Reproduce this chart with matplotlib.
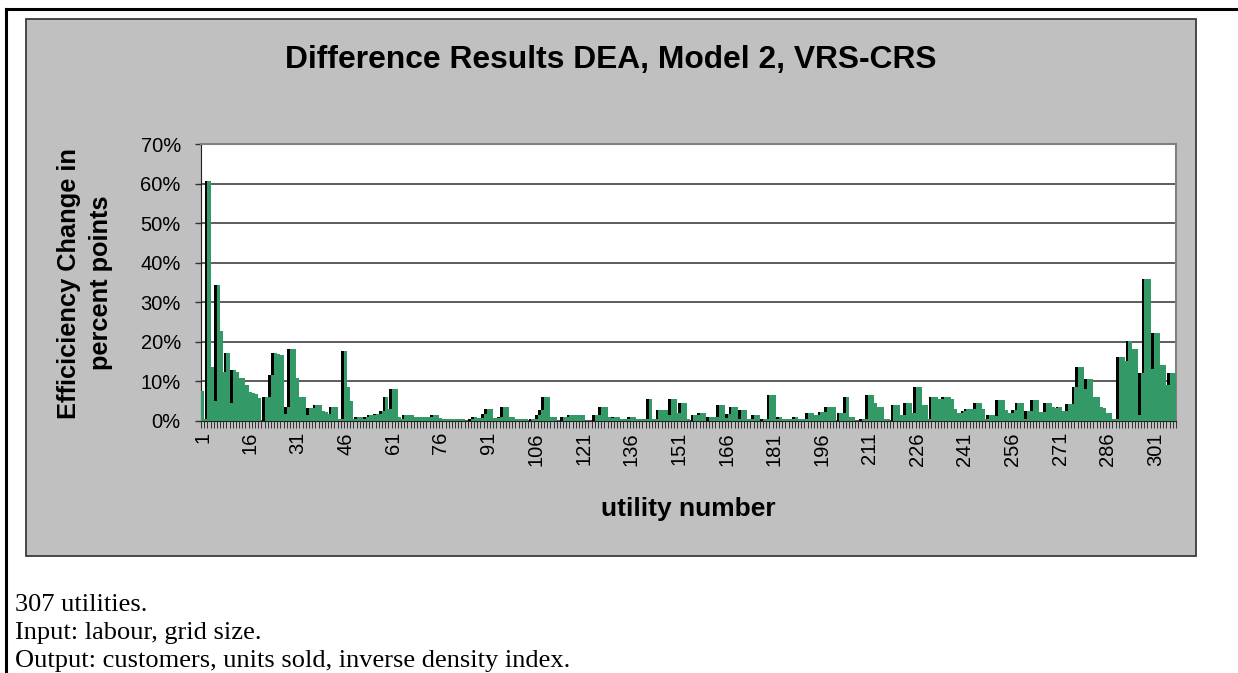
import numpy as np
import matplotlib
matplotlib.use("Agg")
import matplotlib.pyplot as plt
from matplotlib.patches import Rectangle
from matplotlib.lines import Line2D

plt.rcParams['font.family'] = ['Liberation Sans', 'DejaVu Sans']

# difference VRS-CRS per utility, in percent points
diff_pct = [
    7.6, 0.5, 60.6, 13.7, 5.0, 34.3, 22.8, 12.3, 17.2, 4.5,
    12.9, 12.5, 10.8, 10.8, 9.1, 7.4, 7.1, 6.8, 5.7, 0.0,
    6.1, 6.1, 11.5, 17.3, 17.0, 16.6, 1.7, 3.6, 18.2, 18.2,
    10.8, 6.1, 6.1, 1.5, 3.2, 3.2, 4.0, 4.0, 2.6, 2.4,
    1.8, 3.5, 3.5, 0.5, 0.5, 17.6, 8.6, 5.0, 0.6, 1.0,
    1.0, 0.6, 1.0, 1.5, 1.5, 1.8, 1.8, 2.5, 6.0, 3.1,
    8.0, 8.0, 1.0, 0.6, 1.5, 1.5, 1.5, 1.0, 1.0, 1.0,
    1.0, 1.0, 1.0, 1.6, 1.6, 0.7, 0.6, 0.6, 0.6, 0.6,
    0.5, 0.5, 0.5, 0.0, 0.0, 0.5, 1.0, 0.8, 0.8, 1.8,
    3.1, 3.1, 0.8, 0.8, 1.0, 3.5, 3.5, 1.0, 1.0, 0.6,
    0.6, 0.6, 0.6, 0.0, 0.6, 0.6, 1.6, 2.9, 6.0, 6.0,
    1.0, 1.0, 0.0, 0.0, 1.0, 1.0, 1.6, 1.6, 1.6, 1.6,
    1.6, 0.0, 0.0, 0.0, 1.6, 1.6, 3.5, 3.5, 1.0, 0.8,
    1.0, 1.0, 0.5, 0.5, 0.5, 1.0, 1.0, 0.5, 0.5, 0.5,
    0.5, 5.6, 0.6, 0.6, 2.7, 2.7, 2.7, 1.5, 5.6, 5.6,
    2.0, 4.6, 4.6, 0.6, 0.0, 1.6, 1.6, 2.0, 2.0, 0.0,
    1.0, 1.0, 1.0, 4.1, 4.1, 0.8, 1.8, 3.5, 3.5, 0.6,
    2.7, 2.7, 0.6, 0.6, 1.6, 1.6, 0.0, 0.6, 0.6, 6.5,
    6.5, 0.6, 1.0, 0.6, 0.6, 0.5, 0.5, 1.0, 0.6, 0.6,
    0.5, 2.0, 2.0, 1.6, 1.6, 2.4, 2.4, 3.5, 3.5, 3.5,
    0.0, 2.0, 2.0, 6.0, 1.0, 1.0, 0.0, 0.0, 0.5, 0.5,
    6.5, 6.5, 4.6, 3.5, 3.5, 0.6, 0.6, 0.0, 4.1, 4.1,
    1.4, 1.4, 4.5, 4.5, 2.0, 8.6, 8.6, 4.1, 4.1, 0.6,
    6.0, 6.0, 5.6, 5.6, 6.0, 6.0, 5.6, 3.1, 2.0, 2.0,
    2.5, 3.1, 3.1, 3.1, 4.6, 4.6, 3.1, 0.6, 1.6, 1.6,
    1.2, 5.2, 5.2, 2.9, 2.0, 2.0, 2.7, 4.5, 4.5, 0.6,
    2.5, 2.5, 5.2, 5.2, 2.3, 2.3, 4.5, 4.5, 3.5, 3.3,
    3.6, 2.6, 2.6, 4.2, 4.2, 8.6, 13.6, 13.6, 8.0, 10.7,
    10.7, 6.1, 6.1, 3.6, 3.2, 2.1, 2.1, 0.5, 0.5, 16.2,
    16.2, 15.1, 20.3, 18.2, 18.2, 1.5, 12.1, 35.8, 35.8, 13.2,
    22.2, 22.2, 14.2, 14.2, 9.2, 12.1, 12.1,
]
utility = np.arange(1, len(diff_pct) + 1)
tick_labels = [str(u) for u in range(1, 302, 15)]
y_ticks = list(range(0, 71, 10))

W, H = 1238, 673
fig = plt.figure(figsize=(W / 100, H / 100), dpi=100)

# page frame (top and left lines of the table cell)
fig.add_artist(Line2D([6 / W, 1], [1 - 9 / H, 1 - 9 / H], transform=fig.transFigure, color='black', lw=2.2))
fig.add_artist(Line2D([6 / W, 6 / W], [0, 1 - 9 / H], transform=fig.transFigure, color='black', lw=2.2))

# grey chart area, behind the axes
bg = Rectangle((26 / W, 1 - 556 / H), (1196 - 26) / W, (556 - 19) / H,
               transform=fig.transFigure, facecolor='#c0c0c0', edgecolor='#3a3a3a', lw=1.3, zorder=-10)
fig.add_artist(bg)

ax = fig.add_axes([201 / W, 1 - 421 / H, 975 / W, 277 / H])
ax.set_facecolor('white')

# black "shadow" sides, then green faces
ax.bar(utility - 0.85, diff_pct, width=1.0, color='black', lw=0, zorder=2)
ax.bar(utility, diff_pct, width=1.0, color='#339966', lw=0, zorder=3)

ax.set_xlim(0.5, len(diff_pct) + 0.5)
ax.set_ylim(0, 70)
ax.set_axisbelow(True)
ax.yaxis.grid(True, color='#303030', lw=1.1)

ax.set_yticks(y_ticks)
ax.set_yticklabels([f'{v}%' for v in y_ticks], fontsize=14.5)
ax.tick_params(axis='y', length=4.5, width=1, color='#303030', pad=10)

ax.set_xticks(np.arange(0.5, len(diff_pct) + 1, 1.0))
ax.set_xticklabels([])
ax.tick_params(axis='x', which='major', length=5, width=0.7, color='#303030')
ax.set_xticks(range(1, 302, 15), minor=True)
ax.set_xticklabels(tick_labels, minor=True, rotation=90, fontsize=14.5)
ax.tick_params(axis='x', which='minor', length=0, pad=8)

for s in ['top', 'right']:
    ax.spines[s].set_color('#808080')
    ax.spines[s].set_linewidth(1.5)
ax.spines['left'].set_color('#202020')
ax.spines['bottom'].set_color('#202020')

fig.text(611 / W, 1 - 60 / H, 'Difference Results DEA, Model 2, VRS-CRS',
         ha='center', va='center', fontsize=22.9, weight='bold')
fig.text(85 / W, 1 - 283 / H, 'Efficiciency Change in\npercent points', rotation=90,
         ha='center', va='center', fontsize=18.3, weight='bold', linespacing=1.45)
fig.text(688 / W, 1 - 509 / H, 'utility number', ha='center', va='center',
         fontsize=19, weight='bold')

notes = ['307 utilities.', 'Input: labour, grid size.',
         'Output: customers, units sold, inverse density index.']
for i, line in enumerate(notes):
    fig.text(15 / W, 1 - (611 + i * 28) / H, line, ha='left', va='baseline',
             fontsize=19, family='Liberation Serif')

fig.savefig('out.png', dpi=100)
